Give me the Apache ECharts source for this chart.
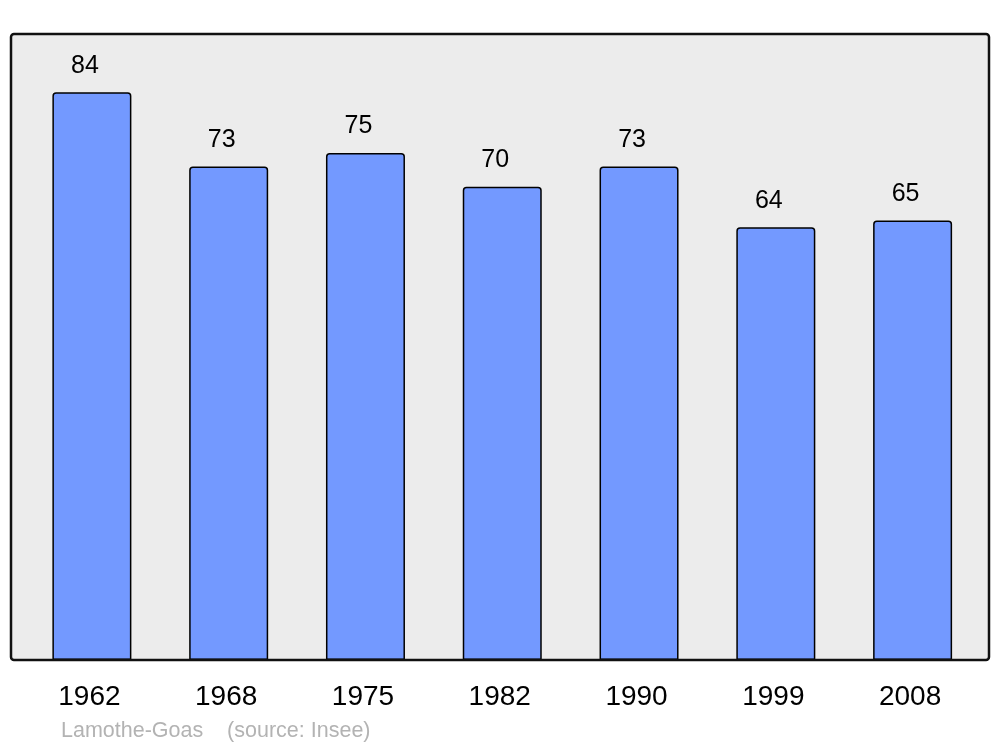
<!DOCTYPE html>
<html>
<head>
<meta charset="utf-8">
<script src="https://cdn.jsdelivr.net/npm/echarts@6/dist/echarts.min.js"></script>
<style>html,body{margin:0;padding:0;background:#fff}#c{width:1000px;height:747px}</style>
</head>
<body>
<div id="c"></div>
<script>
const years = ['1962', '1968', '1975', '1982', '1990', '1999', '2008'];
const population = [84, 73, 75, 70, 73, 64, 65];
const footerText = 'Lamothe-Goas    (source: Insee)';

const chart = echarts.init(document.getElementById('c'), null, {renderer: 'canvas'});
const font = '"Liberation Sans", Arial, sans-serif';
chart.setOption({
  animation: false,
  backgroundColor: '#ffffff',
  grid: {left: 23.5, right: 19, top: 34, bottom: 87, containLabel: false},
  xAxis: {
    type: 'category',
    data: years,
    axisLine: {show: false},
    axisTick: {show: false},
    axisLabel: {fontFamily: font, fontSize: 28, color: '#000', margin: 23.5, padding: [0, 5, 0, 0]},
    splitLine: {show: false}
  },
  yAxis: {
    type: 'value', min: 0, max: 92.6,
    show: false,
    splitLine: {show: false}
  },
  graphic: [
    {type: 'rect', z: -10, silent: true, shape: {x: 11, y: 34, width: 978, height: 626, r: 3},
     style: {fill: '#ececec', stroke: null}},
    {type: 'rect', z: 100, silent: true, shape: {x: 11, y: 34, width: 978, height: 626, r: 3},
     style: {fill: null, stroke: '#111', lineWidth: 2.5}},
    {type: 'text', left: 61, top: 720, silent: true,
     style: {text: footerText, fontFamily: font, fontSize: 21.5, fill: '#b3b3b3'}}
  ],
  series: [{
    type: 'bar',
    data: population,
    barWidth: 79,
    itemStyle: {color: '#7399ff', borderColor: '#000', borderWidth: 1.5, borderRadius: [3, 3, 0, 0]},
    label: {show: true, position: 'top', distance: 14, offset: [-7, 0],
            fontFamily: font, fontSize: 25, color: '#000'}
  }]
});
</script>
</body>
</html>
